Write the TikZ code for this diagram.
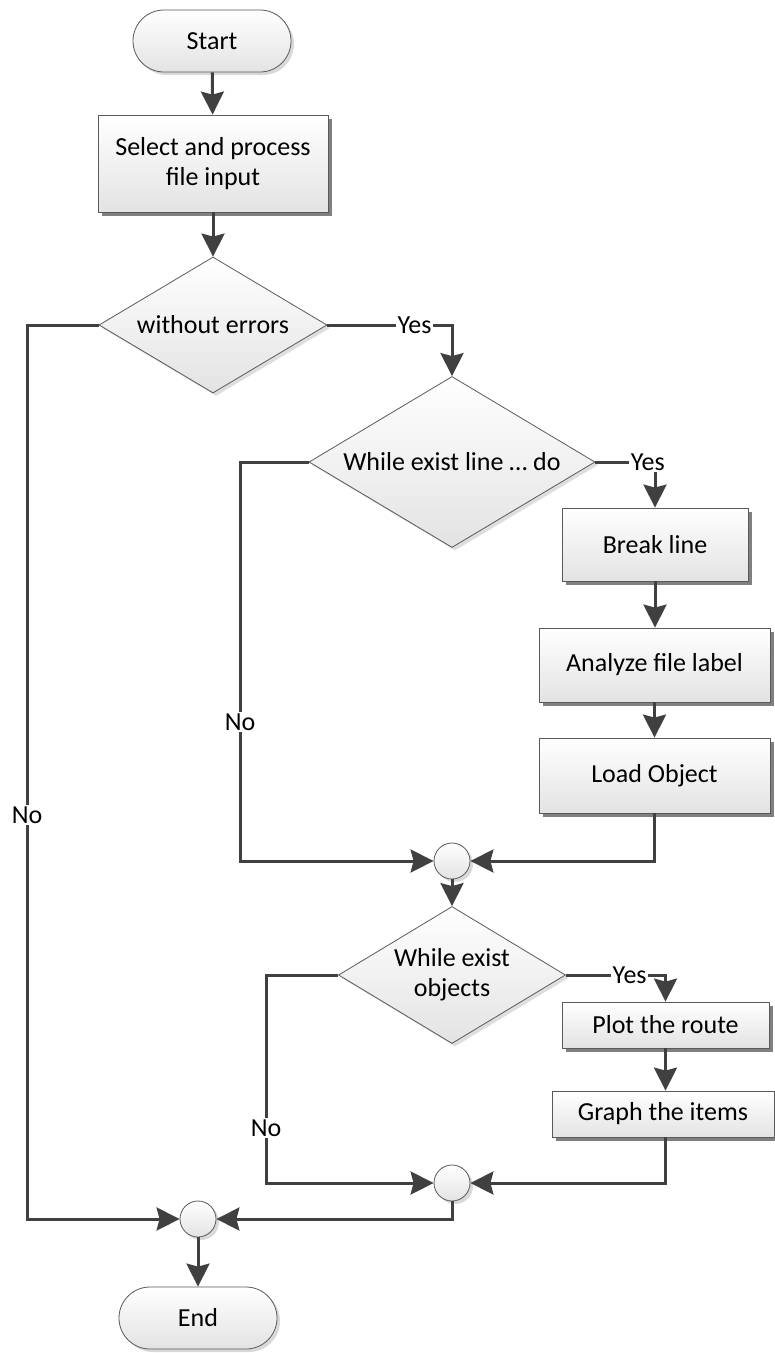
\documentclass[tikz,border=0pt]{standalone}
\usepackage{fontspec}
\setmainfont{Carlito}
\usetikzlibrary{shapes.geometric, arrows.meta, shadows}
\definecolor{linec}{HTML}{404040}
\definecolor{bordc}{HTML}{5A5A5A}
\begin{document}
\begin{tikzpicture}[x=1pt,y=-1pt,
  font=\fontsize{26}{30}\selectfont,
  base/.style={draw=bordc, line width=0.8pt, top color=white, bottom color=black!11, text=black, inner sep=0pt, align=center},
  term/.style={base, rectangle, rounded corners=31pt, minimum width=158pt, minimum height=62pt,
    general shadow={fill=black!15, shadow xshift=3pt, shadow yshift=-3pt}},
  proc/.style={base, rectangle,
    general shadow={fill=black!50, shadow xshift=4pt, shadow yshift=-4pt}},
  dec/.style={base, diamond, shape aspect=1.67,
    general shadow={fill=black!13, shadow xshift=3pt, shadow yshift=-3pt}},
  merge/.style={base, circle, minimum size=36pt,
    general shadow={fill=black!15, shadow xshift=3pt, shadow yshift=-3pt}},
  conn/.style={draw=linec, line width=3pt, -{Stealth[length=23pt, width=23pt, inset=3pt]}},
  lbl/.style={fill=white, inner sep=1.5pt, text=black}]
\useasboundingbox (0,0) rectangle (775,1353);
\fill[white] (0,0) rectangle (775,1353);

% nodes
\node[term] (start) at (212,41) {Start};
\node[proc, minimum width=230pt, minimum height=97pt] (proc1) at (213,163.5) {Select and process\\file input};
\node[dec, minimum width=228pt, minimum height=136pt] (d1) at (213,325) {without errors};
\node[dec, minimum width=286pt, minimum height=171pt] (d2) at (452,462) {While exist line … do};
\node[proc, minimum width=186pt, minimum height=73pt] (brk) at (655,544.5) {Break line};
\node[proc, minimum width=231pt, minimum height=74pt] (ana) at (654.5,665) {Analyze file label};
\node[proc, minimum width=231pt, minimum height=75pt] (load) at (654.5,775.5) {Load Object};
\node[merge] (m1) at (452,861) {};
\node[dec, minimum width=227pt, minimum height=137pt] (d3) at (452,975) {While exist\\objects};
\node[proc, minimum width=207pt, minimum height=46pt] (plot) at (665.5,1025) {Plot the route};
\node[proc, minimum width=222pt, minimum height=46pt] (graph) at (663,1114) {Graph the items};
\node[merge] (m2) at (452,1183) {};
\node[merge] (m3) at (198,1219) {};
\node[term] (end) at (198,1318) {End};

% corner coordinates
\coordinate (noA) at (27,1219);
\coordinate (noB) at (240,861);
\coordinate (noC) at (266,1183);

% connectors
\draw[conn] (start) -- (proc1);
\draw[conn] (proc1) -- (d1);
\draw[conn] (d1.east) -| node[lbl, pos=0.35] {Yes} (d2.north);
\draw[conn] (d2.east) -| node[lbl, pos=0.44] {Yes} (brk.north);
\draw[conn] (brk) -- (brk.south |- ana.north);
\draw[conn] (ana) -- (load);
\draw[conn] (load.south) |- (m1.east);
\draw[conn] (d2.west) -| node[lbl, pos=0.826] {No} (noB) -- (m1.west);
\draw[conn] (m1) -- (d3);
\draw[conn] (d3.east) -| node[lbl, pos=0.32] {Yes} (plot.north);
\draw[conn] (plot.south) -- (plot.south |- graph.north);
\draw[conn] (plot.south |- graph.south) |- (m2.east);
\draw[conn] (d3.west) -| node[lbl, pos=0.868] {No} (noC) -- (m2.west);
\draw[conn] (m2.south) |- (m3.east);
\draw[conn] (d1.west) -| node[lbl, pos=0.774] {No} (noA) -- (m3.west);
\draw[conn] (m3) -- (end);
\end{tikzpicture}
\end{document}
